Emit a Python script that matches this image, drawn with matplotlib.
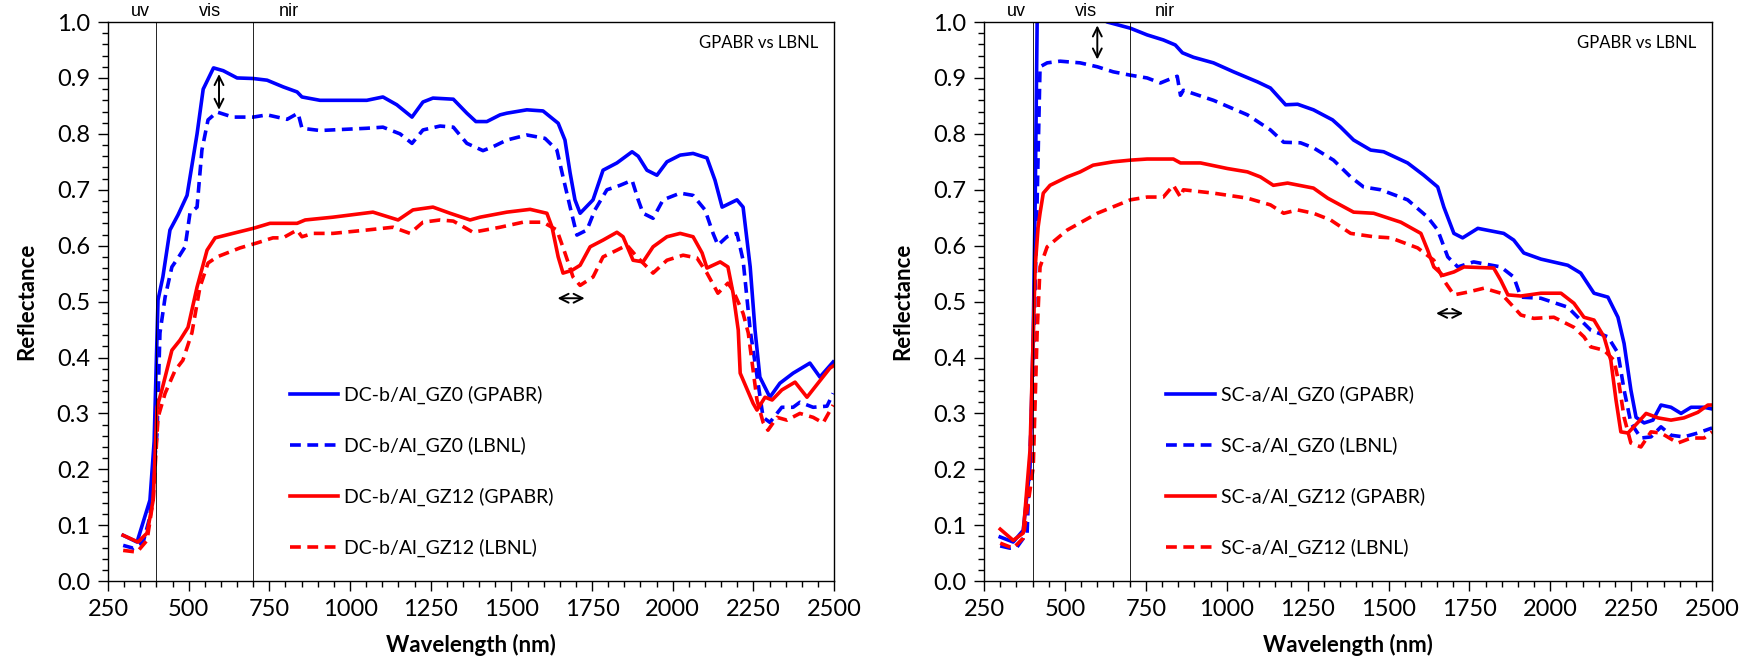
import matplotlib
matplotlib.use('Agg')
import matplotlib.pyplot as plt
from matplotlib.ticker import MultipleLocator, FormatStrFormatter

plt.rcParams['font.family'] = ['Lato', 'DejaVu Sans']

# --- left panel: DC-b/Al ---
dcb_gz0_gpabr_wl = [297, 340, 380, 393, 405, 420, 442, 467, 495, 526, 545, 577, 607, 650, 700, 743, 793, 836, 851, 907,
                    1052, 1102, 1145, 1192, 1226, 1257, 1320, 1362, 1390, 1424, 1465, 1486, 1548, 1598, 1645, 1666, 1682,
                    1697, 1713, 1753, 1784, 1827, 1874, 1893, 1920, 1951, 1982, 2023, 2063, 2106, 2131, 2153, 2199, 2218,
                    2240, 2255, 2270, 2301, 2332, 2373, 2425, 2456, 2497]
dcb_gz0_gpabr_r = [0.082, 0.07, 0.145, 0.25, 0.503, 0.544, 0.628, 0.655, 0.69, 0.80, 0.88, 0.918, 0.913, 0.90, 0.899,
                   0.896, 0.884, 0.875, 0.866, 0.860, 0.86, 0.866, 0.852, 0.83, 0.857, 0.864, 0.862, 0.837, 0.822, 0.822,
                   0.834, 0.837, 0.843, 0.841, 0.819, 0.789, 0.73, 0.682, 0.658, 0.682, 0.735, 0.748, 0.768, 0.76, 0.735,
                   0.726, 0.75, 0.762, 0.765, 0.757, 0.717, 0.669, 0.682, 0.669, 0.562, 0.449, 0.365, 0.329, 0.354, 0.372,
                   0.39, 0.365, 0.392]

dcb_gz0_lbnl_wl = [297, 328, 359, 380, 402, 411, 427, 448, 467, 489, 504, 526, 541, 560, 588, 637, 700, 743, 805, 839,
                   851, 907, 1052, 1102, 1155, 1192, 1226, 1279, 1320, 1362, 1412, 1443, 1486, 1548, 1604, 1641, 1660,
                   1682, 1703, 1734, 1759, 1796, 1837, 1874, 1893, 1908, 1939, 1970, 2023, 2063, 2100, 2125, 2140, 2168,
                   2199, 2218, 2240, 2280, 2301, 2338, 2373, 2394, 2435, 2478, 2497]
dcb_gz0_lbnl_r = [0.064, 0.059, 0.07, 0.115, 0.265, 0.444, 0.508, 0.562, 0.578, 0.598, 0.658, 0.669, 0.771, 0.825, 0.839,
                  0.83, 0.83, 0.834, 0.826, 0.837, 0.81, 0.806, 0.81, 0.812, 0.80, 0.783, 0.807, 0.814, 0.812, 0.783,
                  0.77, 0.777, 0.789, 0.798, 0.792, 0.771, 0.723, 0.669, 0.619, 0.628, 0.664, 0.70, 0.708, 0.717, 0.682,
                  0.658, 0.649, 0.682, 0.694, 0.69, 0.664, 0.622, 0.601, 0.616, 0.622, 0.574, 0.449, 0.293, 0.284, 0.311,
                  0.311, 0.32, 0.311, 0.313, 0.336]

dcb_gz12_gpabr_wl = [297, 343, 371, 390, 402, 417, 448, 473, 498, 526, 557, 582, 637, 700, 752, 836, 861, 947, 1071,
                     1149, 1195, 1257, 1310, 1372, 1403, 1486, 1558, 1610, 1626, 1645, 1660, 1688, 1713, 1744, 1784, 1827,
                     1846, 1877, 1908, 1939, 1982, 2023, 2063, 2091, 2106, 2147, 2171, 2187, 2203, 2209, 2249, 2261, 2286,
                     2308, 2338, 2379, 2416, 2450, 2487, 2500]
dcb_gz12_gpabr_r = [0.082, 0.07, 0.086, 0.145, 0.311, 0.342, 0.413, 0.431, 0.454, 0.526, 0.592, 0.614, 0.622, 0.631,
                    0.64, 0.64, 0.646, 0.651, 0.66, 0.646, 0.664, 0.669, 0.658, 0.646, 0.651, 0.66, 0.665, 0.658, 0.633,
                    0.58, 0.551, 0.556, 0.565, 0.598, 0.61, 0.624, 0.616, 0.574, 0.571, 0.598, 0.616, 0.622, 0.616, 0.587,
                    0.56, 0.571, 0.562, 0.515, 0.449, 0.372, 0.318, 0.306, 0.329, 0.324, 0.342, 0.356, 0.329, 0.354,
                    0.381, 0.386]

dcb_gz12_lbnl_wl = [297, 340, 371, 390, 405, 427, 458, 482, 510, 535, 560, 588, 659, 712, 761, 792, 836, 851, 885, 947,
                    1052, 1133, 1186, 1226, 1279, 1320, 1381, 1465, 1536, 1598, 1641, 1666, 1691, 1713, 1753, 1784, 1827,
                    1858, 1889, 1939, 1982, 2032, 2075, 2106, 2140, 2171, 2187, 2218, 2234, 2261, 2280, 2295, 2323, 2354,
                    2394, 2435, 2466, 2497]
dcb_gz12_lbnl_r = [0.055, 0.052, 0.073, 0.145, 0.293, 0.336, 0.377, 0.395, 0.444, 0.526, 0.569, 0.58, 0.596, 0.605,
                   0.614, 0.614, 0.628, 0.616, 0.622, 0.622, 0.628, 0.633, 0.622, 0.642, 0.646, 0.644, 0.624, 0.633,
                   0.642, 0.642, 0.628, 0.587, 0.544, 0.529, 0.544, 0.58, 0.592, 0.601, 0.58, 0.551, 0.574, 0.583, 0.578,
                   0.551, 0.515, 0.533, 0.52, 0.479, 0.444, 0.324, 0.284, 0.27, 0.293, 0.288, 0.30, 0.293, 0.283, 0.315]

# --- right panel: SC-a/Al ---
sca_gz0_gpabr_wl = [300, 340, 371, 392, 402, 408, 414, 425, 500, 600, 631, 702, 754, 804, 841, 863, 897, 959, 1021,
                    1095, 1135, 1182, 1219, 1268, 1327, 1352, 1392, 1445, 1485, 1559, 1609, 1652, 1671, 1702, 1729, 1776,
                    1856, 1887, 1918, 1971, 2054, 2094, 2135, 2178, 2209, 2228, 2249, 2265, 2290, 2317, 2342, 2373, 2404,
                    2435, 2475, 2500]
sca_gz0_gpabr_r = [0.079, 0.07, 0.091, 0.204, 0.444, 0.68, 0.998, 1.04, 1.04, 1.01, 1.0, 0.989, 0.977, 0.968, 0.959,
                   0.945, 0.937, 0.927, 0.911, 0.893, 0.882, 0.852, 0.853, 0.843, 0.825, 0.812, 0.789, 0.771, 0.768,
                   0.748, 0.726, 0.705, 0.669, 0.622, 0.614, 0.631, 0.622, 0.61, 0.587, 0.576, 0.565, 0.551, 0.515, 0.508,
                   0.472, 0.425, 0.342, 0.293, 0.283, 0.288, 0.315, 0.311, 0.30, 0.311, 0.311, 0.308]

sca_gz0_lbnl_wl = [300, 330, 352, 383, 402, 414, 423, 445, 485, 547, 600, 649, 702, 754, 795, 816, 847, 857, 866, 959,
                   1064, 1135, 1176, 1228, 1268, 1330, 1383, 1423, 1476, 1559, 1621, 1652, 1683, 1714, 1763, 1847, 1887,
                   1909, 1971, 2054, 2085, 2125, 2178, 2209, 2228, 2249, 2280, 2311, 2342, 2373, 2413, 2456, 2500]
sca_gz0_lbnl_r = [0.063, 0.059, 0.061, 0.086, 0.383, 0.68, 0.92, 0.927, 0.93, 0.927, 0.92, 0.911, 0.905, 0.90, 0.891,
                  0.896, 0.903, 0.869, 0.878, 0.86, 0.834, 0.807, 0.785, 0.784, 0.775, 0.753, 0.723, 0.705, 0.70, 0.682,
                  0.651, 0.628, 0.58, 0.562, 0.571, 0.562, 0.544, 0.508, 0.506, 0.49, 0.472, 0.449, 0.437, 0.408, 0.342,
                  0.283, 0.256, 0.258, 0.276, 0.261, 0.258, 0.265, 0.274]

sca_gz12_gpabr_wl = [300, 340, 371, 392, 408, 417, 423, 433, 454, 507, 547, 587, 649, 702, 754, 835, 857, 919, 1002,
                     1064, 1104, 1144, 1188, 1268, 1312, 1392, 1454, 1538, 1600, 1621, 1640, 1668, 1702, 1733, 1825, 1847,
                     1869, 1909, 1971, 2033, 2073, 2104, 2135, 2166, 2187, 2203, 2218, 2240, 2271, 2296, 2333, 2373, 2413,
                     2456, 2487, 2500]
sca_gz12_gpabr_r = [0.093, 0.073, 0.086, 0.234, 0.562, 0.633, 0.658, 0.694, 0.708, 0.723, 0.732, 0.744, 0.75, 0.753,
                    0.755, 0.755, 0.748, 0.748, 0.738, 0.732, 0.723, 0.708, 0.712, 0.703, 0.685, 0.66, 0.658, 0.642, 0.622,
                    0.592, 0.562, 0.547, 0.553, 0.562, 0.56, 0.538, 0.512, 0.51, 0.515, 0.515, 0.497, 0.472, 0.467, 0.437,
                    0.395, 0.324, 0.267, 0.265, 0.284, 0.30, 0.292, 0.288, 0.292, 0.302, 0.315, 0.315]

sca_gz12_lbnl_wl = [300, 340, 371, 402, 414, 423, 445, 507, 600, 702, 754, 804, 835, 857, 866, 959, 1064, 1135, 1176,
                    1219, 1268, 1321, 1383, 1454, 1507, 1590, 1640, 1671, 1702, 1745, 1795, 1847, 1887, 1909, 1949, 2011,
                    2073, 2104, 2125, 2166, 2197, 2212, 2228, 2249, 2280, 2311, 2342, 2394, 2435, 2475, 2500]
sca_gz12_lbnl_r = [0.068, 0.059, 0.077, 0.204, 0.444, 0.562, 0.598, 0.628, 0.658, 0.682, 0.687, 0.687, 0.708, 0.687,
                   0.70, 0.694, 0.685, 0.673, 0.658, 0.664, 0.658, 0.646, 0.622, 0.616, 0.614, 0.596, 0.574, 0.538, 0.512,
                   0.517, 0.524, 0.515, 0.49, 0.476, 0.47, 0.472, 0.454, 0.437, 0.419, 0.413, 0.395, 0.354, 0.293, 0.247,
                   0.24, 0.267, 0.265, 0.247, 0.256, 0.256, 0.267]

dash = (3, 1.8)


def draw_panel(ax, series, labels, arrow_v, arrow_h):
    colors = ['#0000ff', '#0000ff', '#ff0000', '#ff0000']
    for (wl, r), lab, c, i in zip(series, labels, colors, range(4)):
        if i % 2 == 0:
            ax.plot(wl, r, color=c, lw=2.6, label=lab)
        else:
            ax.plot(wl, r, color=c, lw=2.6, ls=(0, dash), label=lab)

    ax.axvline(400, color='black', lw=0.6)
    ax.axvline(700, color='black', lw=0.6)
    for x, t in [(350, 'uv'), (565, 'vis'), (810, 'nir')]:
        ax.text(x, 1.003, t, transform=ax.get_xaxis_transform(), ha='center', va='bottom',
                fontsize=13, family='Liberation Sans')

    ax.annotate('', xy=(arrow_v[0], arrow_v[2]), xytext=(arrow_v[0], arrow_v[1]),
                arrowprops=dict(arrowstyle='<->', color='black', lw=1.4, mutation_scale=16,
                                shrinkA=0, shrinkB=0))
    ax.annotate('', xy=(arrow_h[1], arrow_h[2]), xytext=(arrow_h[0], arrow_h[2]),
                arrowprops=dict(arrowstyle='<->', color='black', lw=1.4, mutation_scale=16,
                                shrinkA=0, shrinkB=0))

    ax.text(0.978, 0.962, 'GPABR vs LBNL', transform=ax.transAxes, ha='right', va='center', fontsize=12)

    ax.set_xlim(250, 2500)
    ax.set_ylim(0, 1.0)
    ax.xaxis.set_major_locator(MultipleLocator(250))
    ax.xaxis.set_minor_locator(MultipleLocator(50))
    ax.yaxis.set_major_locator(MultipleLocator(0.1))
    ax.yaxis.set_minor_locator(MultipleLocator(0.02))
    ax.yaxis.set_major_formatter(FormatStrFormatter('%.1f'))
    ax.tick_params(which='major', direction='out', length=7, width=1, labelsize=17, pad=6)
    ax.tick_params(which='minor', direction='out', length=4, width=1)
    ax.tick_params(top=False, right=False, which='both')
    for s in ax.spines.values():
        s.set_linewidth(1.0)
    ax.set_xlabel('Wavelength (nm)', fontsize=16, fontweight='bold', labelpad=10)
    ax.set_ylabel('Reflectance', fontsize=16, fontweight='bold', labelpad=14)

    ax.legend(loc='lower left', bbox_to_anchor=(0.25, 0.043), frameon=False, fontsize=14,
              handlelength=2.5, labelspacing=1.68, borderpad=0, borderaxespad=0, handletextpad=0.3)


fig = plt.figure(figsize=(17.56, 6.68), dpi=100)
ax1 = fig.add_axes([0.0615, 0.130, 0.4135, 0.837])
ax2 = fig.add_axes([0.5604, 0.130, 0.4146, 0.837])

draw_panel(ax1,
           [(dcb_gz0_gpabr_wl, dcb_gz0_gpabr_r), (dcb_gz0_lbnl_wl, dcb_gz0_lbnl_r),
            (dcb_gz12_gpabr_wl, dcb_gz12_gpabr_r), (dcb_gz12_lbnl_wl, dcb_gz12_lbnl_r)],
           ['DC-b/Al_GZ0 (GPABR)', 'DC-b/Al_GZ0 (LBNL)', 'DC-b/Al_GZ12 (GPABR)', 'DC-b/Al_GZ12 (LBNL)'],
           (594, 0.907, 0.843), (1643, 1727, 0.506))
draw_panel(ax2,
           [(sca_gz0_gpabr_wl, sca_gz0_gpabr_r), (sca_gz0_lbnl_wl, sca_gz0_lbnl_r),
            (sca_gz12_gpabr_wl, sca_gz12_gpabr_r), (sca_gz12_lbnl_wl, sca_gz12_lbnl_r)],
           ['SC-a/Al_GZ0 (GPABR)', 'SC-a/Al_GZ0 (LBNL)', 'SC-a/Al_GZ12 (GPABR)', 'SC-a/Al_GZ12 (LBNL)'],
           (600, 0.994, 0.933), (1647, 1731, 0.479))

fig.savefig('out.png', dpi=100)
